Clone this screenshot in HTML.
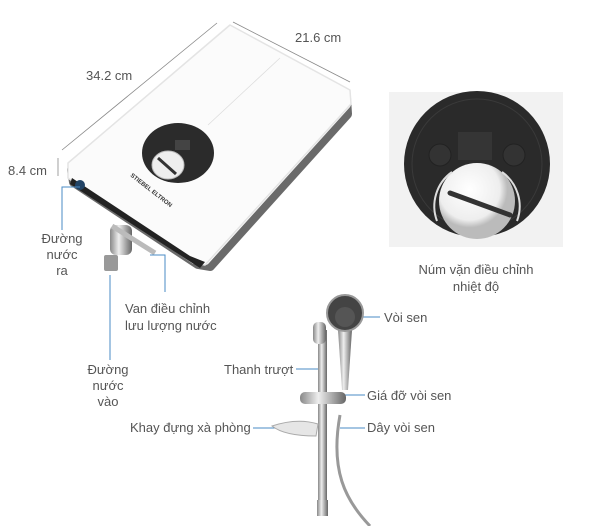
<!DOCTYPE html>
<html><head><meta charset="utf-8"><style>
body{margin:0;background:#fff;}
svg{display:block;font-family:"Liberation Sans",sans-serif;}
.t{fill:#555;font-size:13px;}
</style></head><body>
<svg width="600" height="526" viewBox="0 0 600 526">
<defs>
<linearGradient id="chrome" x1="0" x2="1"><stop offset="0" stop-color="#888"/><stop offset="0.4" stop-color="#eee"/><stop offset="0.7" stop-color="#aaa"/><stop offset="1" stop-color="#666"/></linearGradient>
<radialGradient id="knob" cx="0.4" cy="0.35"><stop offset="0" stop-color="#fff"/><stop offset="0.8" stop-color="#eee"/><stop offset="1" stop-color="#bbb"/></radialGradient>
</defs>
<g stroke="#888" stroke-width="0.8" fill="none">
<line x1="62" y1="150" x2="217" y2="23"/>
<line x1="233" y1="22" x2="350" y2="82"/>
<line x1="58" y1="158" x2="58" y2="176"/>
</g>
<text class="t" x="86" y="80">34.2 cm</text>
<text class="t" x="295" y="42">21.6 cm</text>
<text class="t" x="8" y="175">8.4 cm</text>
<path d="M232,32 L346,98 L347,114 L210,266 L198,264 L74,182 L72,170 Z" fill="#6a6a6a" stroke="#6a6a6a" stroke-width="10" stroke-linejoin="round"/>
<path d="M230,30 L345,92 L346,104 L205,260 L195,258 L73,176 L73,165 Z" fill="#fbfbfb" stroke="#fbfbfb" stroke-width="10" stroke-linejoin="round"/>
<path d="M230,25 L350,90 L351,104 L205,265 L193,263 L68,178 L68,163 Z" fill="none" stroke="#e4e4e4" stroke-width="1.5" stroke-linejoin="round"/>
<line x1="280" y1="58" x2="208" y2="125" stroke="#ddd" stroke-width="0.8"/>
<path d="M72,178 L190,256 L205,262 L200,268 L70,184 Z" fill="#222"/>
<ellipse cx="178" cy="153" rx="36" ry="30" fill="#2b2b2b"/>
<rect x="175" y="140" width="15" height="10" fill="#444"/>
<ellipse cx="168" cy="165" rx="16" ry="14" fill="#eee" stroke="#bbb"/>
<line x1="158" y1="158" x2="176" y2="174" stroke="#333" stroke-width="3"/>
<text x="130" y="176" transform="rotate(38 130 176)" style="fill:#333;font-size:6px;font-weight:bold">STIEBEL ELTRON</text>
<rect x="104" y="255" width="14" height="16" fill="#999" rx="2"/>
<rect x="110" y="225" width="22" height="30" fill="url(#chrome)" rx="6"/>
<line x1="112" y1="226" x2="155" y2="253" stroke="#bbb" stroke-width="5"/>
<circle cx="80" cy="185" r="5" fill="#246"/>
<g stroke="#4a8bc6" stroke-width="1" fill="none">
<polyline points="80,187 62,187 62,230"/>
<polyline points="150,255 165,255 165,292"/>
<line x1="110" y1="275" x2="110" y2="360"/>
<line x1="348" y1="317" x2="380" y2="317"/>
<line x1="296" y1="369" x2="320" y2="369"/>
<line x1="327" y1="395" x2="365" y2="395"/>
<line x1="253" y1="428" x2="285" y2="428"/>
<line x1="340" y1="428" x2="365" y2="428"/>
</g>
<text class="t" text-anchor="middle" y="243"><tspan x="62">Đường</tspan><tspan x="62" dy="16">nước</tspan><tspan x="62" dy="16">ra</tspan></text>
<text class="t" x="125" y="313">Van điều chỉnh</text>
<text class="t" x="125" y="330">lưu lượng nước</text>
<text class="t" text-anchor="middle" y="374"><tspan x="108">Đường</tspan><tspan x="108" dy="16">nước</tspan><tspan x="108" dy="16">vào</tspan></text>
<rect x="389" y="92" width="174" height="155" fill="#f2f2f2"/>
<circle cx="477" cy="164" r="73" fill="#2a2a2a"/>
<circle cx="477" cy="164" r="65" fill="none" stroke="#3a3a3a"/>
<rect x="458" y="132" width="34" height="28" fill="#353535"/>
<circle cx="440" cy="155" r="11" fill="#333" stroke="#222"/>
<circle cx="514" cy="155" r="11" fill="#333" stroke="#222"/>
<circle cx="477" cy="201" r="38" fill="url(#knob)"/>
<path d="M437,221 A42,42 0 0 1 452,172" stroke="#ddd" stroke-width="2" fill="none"/>
<path d="M517,221 A42,42 0 0 0 502,172" stroke="#ddd" stroke-width="2" fill="none"/>
<line x1="450" y1="193" x2="510" y2="215" stroke="#333" stroke-width="5" stroke-linecap="round"/>
<text class="t" x="476" y="274" text-anchor="middle">Núm vặn điều chỉnh</text>
<text class="t" x="476" y="291" text-anchor="middle">nhiệt độ</text>
<path d="M340,415 C330,470 345,500 370,526" stroke="#999" stroke-width="3" fill="none"/>
<rect x="318" y="330" width="9" height="185" fill="url(#chrome)"/>
<rect x="313" y="322" width="13" height="22" rx="5" fill="url(#chrome)"/>
<rect x="317" y="500" width="11" height="16" fill="url(#chrome)"/>
<path d="M338,330 L352,330 L348,390 L342,390 Z" fill="url(#chrome)"/>
<circle cx="345" cy="313" r="18" fill="#444" stroke="#999" stroke-width="2"/>
<circle cx="345" cy="317" r="10" fill="#555"/>
<rect x="300" y="392" width="46" height="12" rx="5" fill="url(#chrome)"/>
<path d="M272,426 C290,420 305,420 318,424 L316,436 C300,436 282,434 272,426 Z" fill="#e6e6e6" stroke="#aaa"/>
<text class="t" x="384" y="322">Vòi sen</text>
<text class="t" x="224" y="374">Thanh trượt</text>
<text class="t" x="367" y="400">Giá đỡ vòi sen</text>
<text class="t" x="130" y="432">Khay đựng xà phòng</text>
<text class="t" x="367" y="432">Dây vòi sen</text>
</svg>
</body></html>
